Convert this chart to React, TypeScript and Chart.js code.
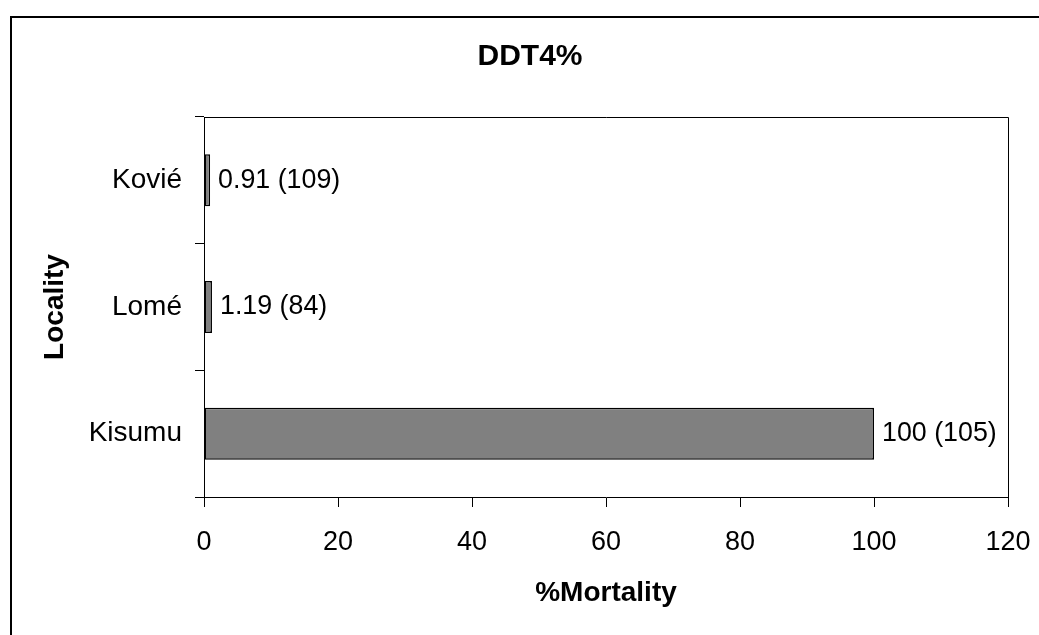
import React, { useEffect, useRef } from "react";
import { Chart, registerables } from "chart.js";

Chart.register(...registerables);

const localities = ["Kovié", "Lomé", "Kisumu"];
const mortality = [0.91, 1.19, 100];
const sampleSizes = [109, 84, 105];
const xTicksMin = 0;
const xTicksMax = 120;
const xTickStep = 20;

const FONT = '"Liberation Sans", Arial, Helvetica, sans-serif';

const framePlugin = {
  id: "frame",
  beforeDraw(chart: any) {
    const { ctx, width, height } = chart;
    ctx.save();
    ctx.fillStyle = "#ffffff";
    ctx.fillRect(0, 0, width, height);
    ctx.strokeStyle = "#000000";
    ctx.lineWidth = 2;
    ctx.strokeRect(11, 17, width + 100, height + 100);
    ctx.restore();
  },
  afterDraw(chart: any) {
    const { ctx, chartArea } = chart;
    ctx.save();
    ctx.strokeStyle = "#000000";
    ctx.lineWidth = 1;
    ctx.beginPath();
    ctx.moveTo(chartArea.left, Math.round(chartArea.top) + 0.5);
    ctx.lineTo(Math.round(chartArea.right) + 0.5, Math.round(chartArea.top) + 0.5);
    ctx.lineTo(Math.round(chartArea.right) + 0.5, chartArea.bottom);
    ctx.stroke();
    ctx.restore();
  },
};

const valueLabelPlugin = {
  id: "valueLabels",
  afterDatasetsDraw(chart: any) {
    const { ctx } = chart;
    const meta = chart.getDatasetMeta(0);
    ctx.save();
    ctx.font = `26.8px ${FONT}`;
    ctx.fillStyle = "#000000";
    ctx.textAlign = "left";
    ctx.textBaseline = "middle";
    meta.data.forEach((bar: any, i: number) => {
      const text = `${mortality[i]} (${sampleSizes[i]})`;
      ctx.fillText(text, bar.x + 8, bar.y);
    });
    ctx.restore();
  },
};

export default function App() {
  const canvasRef = useRef<HTMLCanvasElement | null>(null);

  useEffect(() => {
    if (!canvasRef.current) return;
    const chart = new Chart(canvasRef.current, {
      type: "bar",
      data: {
        labels: localities,
        datasets: [
          {
            data: mortality,
            backgroundColor: "#808080",
            borderColor: "#000000",
            borderWidth: 1.5,
            borderSkipped: false,
            categoryPercentage: 1,
            barPercentage: 0.41,
          },
        ],
      },
      options: {
        indexAxis: "y",
        responsive: false,
        animation: false,
        events: [],
        layout: { padding: { left: 52, right: 31, top: 0, bottom: 0 } },
        plugins: {
          legend: { display: false },
          tooltip: { enabled: false },
          title: {
            display: true,
            text: "DDT4%",
            color: "#000000",
            font: { family: FONT, size: 30, weight: "bold" },
            padding: { top: 38.3, bottom: 42.7 },
          },
        },
        scales: {
          x: {
            type: "linear",
            min: xTicksMin,
            max: xTicksMax,
            ticks: {
              stepSize: xTickStep,
              color: "#000000",
              font: { family: FONT, size: 27 },
              padding: 19.1,
            },
            grid: {
              display: true,
              drawOnChartArea: false,
              drawTicks: true,
              tickLength: 10,
              color: "#000000",
            },
            border: { display: true, color: "#000000", width: 1 },
            title: {
              display: true,
              text: "%Mortality",
              color: "#000000",
              font: { family: FONT, size: 28, weight: "bold" },
              padding: { top: 0, bottom: 25.2 },
            },
            afterFit(scale: any) {
              scale.height = 138;
              scale.paddingLeft = 0;
              scale.paddingRight = 0;
            },
          },
          y: {
            type: "category",
            ticks: {
              color: "#000000",
              font: { family: FONT, size: 28 },
              padding: 13,
            },
            grid: {
              display: true,
              offset: true,
              drawOnChartArea: false,
              drawTicks: true,
              tickLength: 9,
              color: "#000000",
            },
            border: { display: true, color: "#000000", width: 1 },
            title: {
              display: true,
              text: "Locality",
              color: "#000000",
              font: { family: FONT, size: 28, weight: "bold" },
              padding: { top: -13.5, bottom: 0 },
            },
            afterFit(scale: any) {
              scale.width = 152;
              scale.paddingTop = 0;
              scale.paddingBottom = 0;
            },
          },
        },
      } as any,
      plugins: [framePlugin, valueLabelPlugin],
    });
    return () => chart.destroy();
  }, []);

  return (
    <div
      style={{
        position: "fixed",
        left: 0,
        top: 0,
        width: 1039,
        height: 635,
        overflow: "hidden",
        background: "#ffffff",
      }}
    >
      <canvas
        ref={canvasRef}
        width={1039}
        height={635}
        style={{ width: 1039, height: 635, display: "block" }}
      />
    </div>
  );
}
